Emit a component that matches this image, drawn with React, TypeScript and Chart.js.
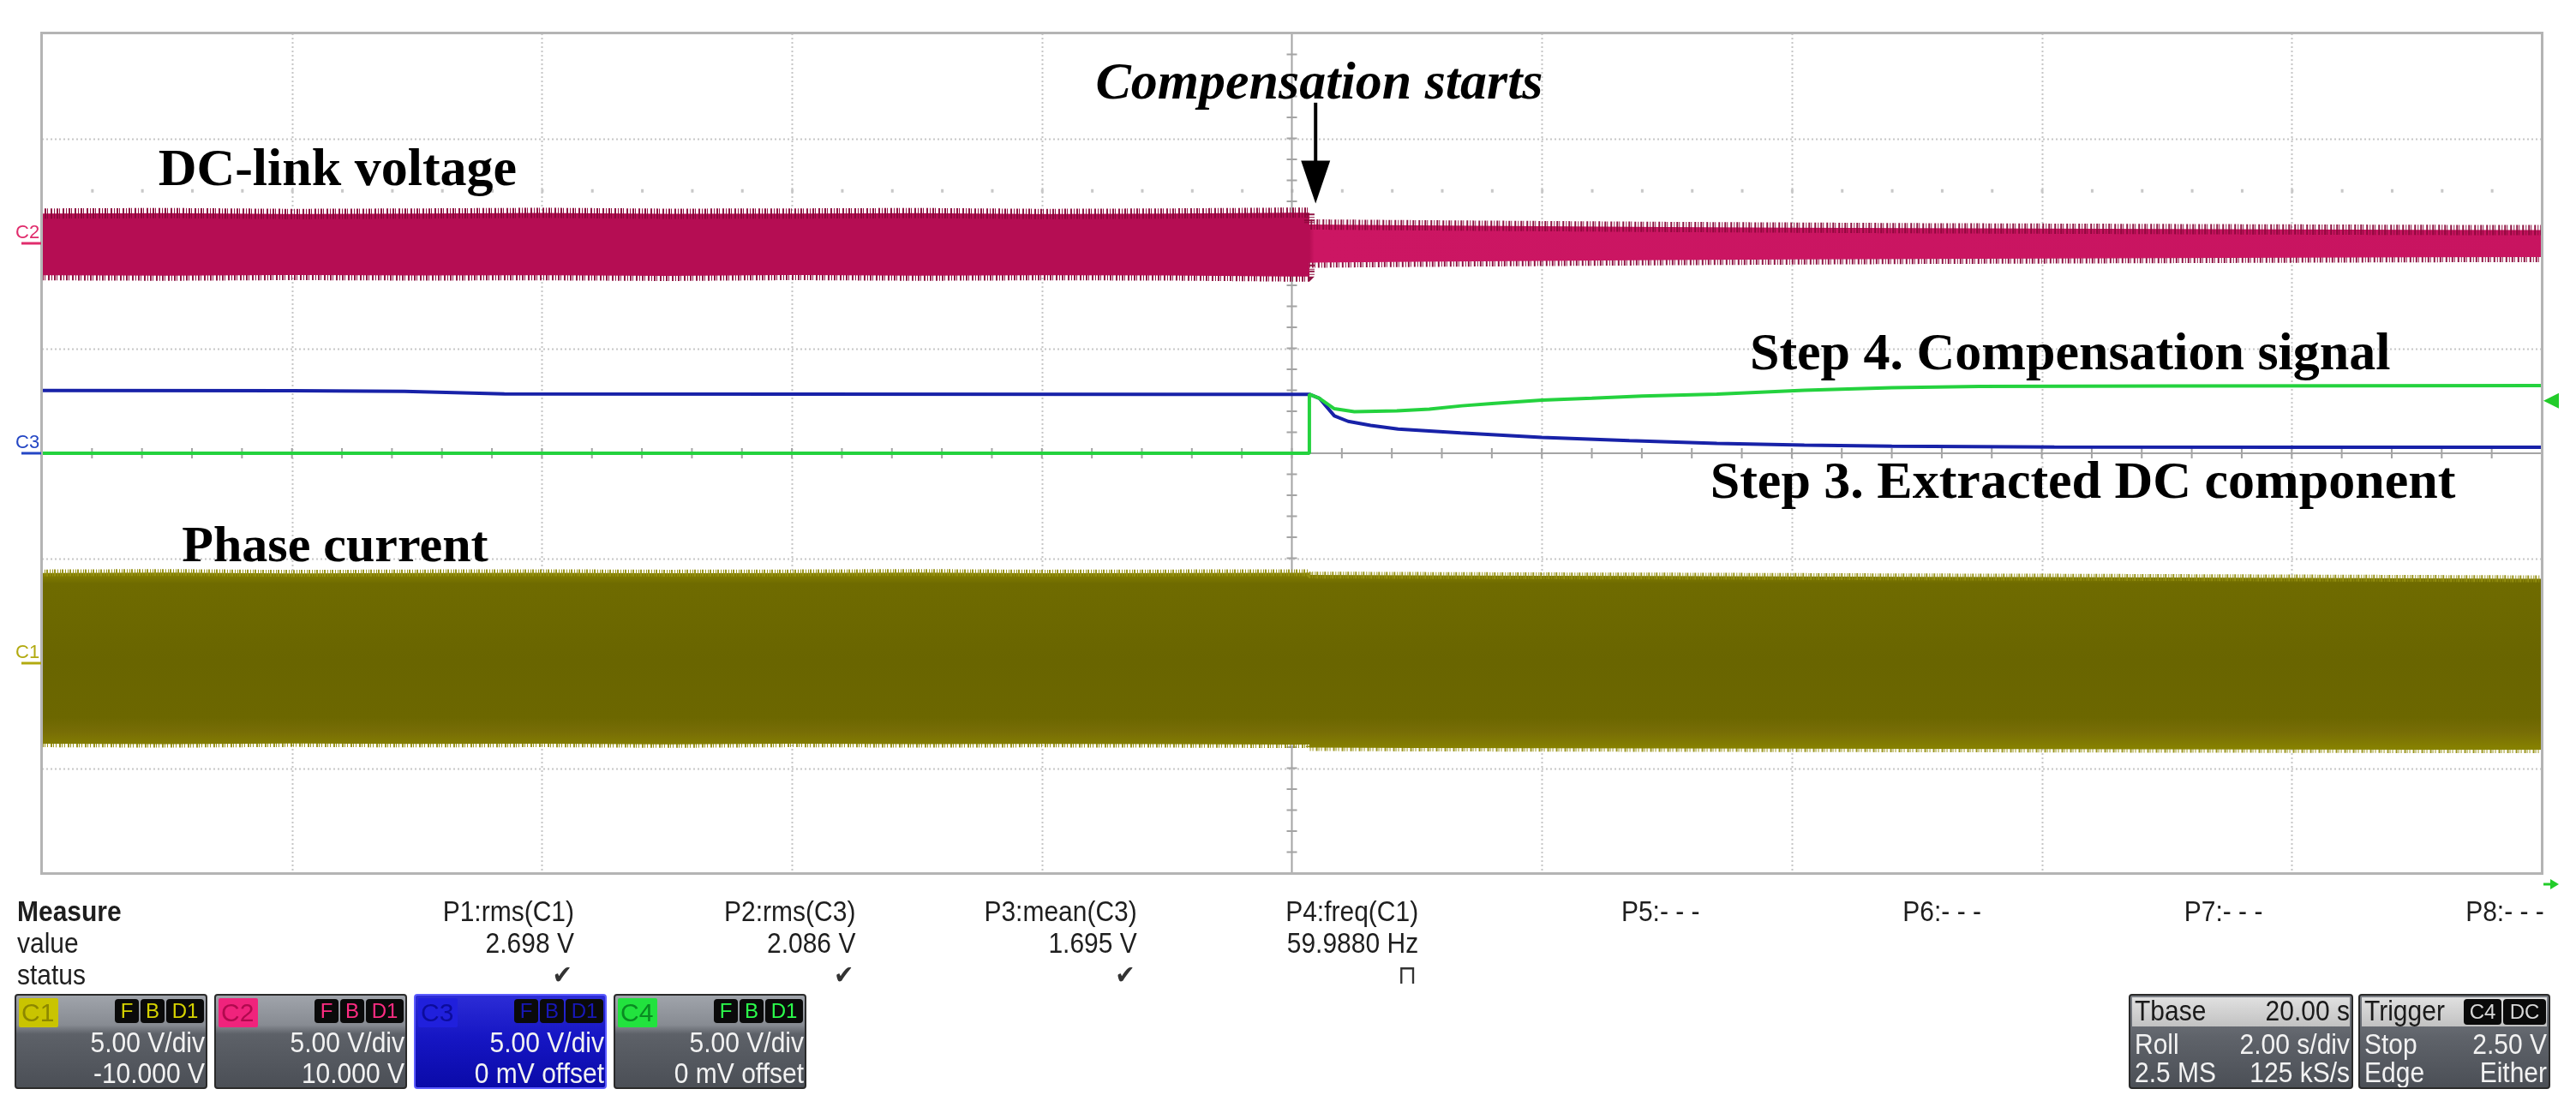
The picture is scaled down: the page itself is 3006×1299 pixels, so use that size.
import React, { useEffect, useRef } from 'react';
import { Chart, registerables } from 'chart.js';

Chart.register(...registerables);

// ---- axes: 10 div x 2 s/div, 8 div x 5 V/div ----
const timeMin = 0;
const timeMax = 20;
const voltMin = -20;
const voltMax = 20;
const stepTime = 10.14;

// channel offsets (V)
const c1Offset = -10;
const c2Offset = 10;
const c3Offset = 0;
const c4Offset = 0;

// envelopes of the dense waveforms (C1 phase current, C2 DC-link voltage)
const envTime = [0, 1, 2, 3, 4, 5, 6, 7, 8, 9, 10, 10.14, 10.14, 11, 12, 13, 14, 15, 16, 17, 18, 19, 20];
const c2Upper = [1.42, 1.44, 1.4, 1.42, 1.45, 1.41, 1.42, 1.44, 1.4, 1.42, 1.46, 1.46, 0.9, 0.86, 0.82, 0.78, 0.75, 0.72, 0.7, 0.68, 0.66, 0.64, 0.63];
const c2Lower = [-1.52, -1.54, -1.51, -1.53, -1.52, -1.55, -1.51, -1.54, -1.52, -1.53, -1.58, -1.58, -0.92, -0.88, -0.84, -0.8, -0.77, -0.74, -0.72, -0.7, -0.68, -0.66, -0.65];
const c1Upper = [4.3, 4.32, 4.28, 4.3, 4.31, 4.29, 4.3, 4.32, 4.29, 4.3, 4.31, 4.31, 4.2, 4.18, 4.16, 4.15, 4.13, 4.11, 4.1, 4.08, 4.06, 4.04, 4.02];
const c1Lower = [-3.84, -3.86, -3.83, -3.85, -3.84, -3.87, -3.84, -3.86, -3.85, -3.86, -3.88, -3.88, -4.02, -4.04, -4.05, -4.06, -4.07, -4.08, -4.09, -4.1, -4.11, -4.12, -4.12];

// C3: extracted DC component
const c3Time = [0, 2, 2.9, 3.7, 6, 9, 10.14, 10.22, 10.34, 10.45, 10.63, 10.85, 11.35, 12.0, 12.7, 13.4, 14.1, 14.8, 16.1, 18, 20];
const c3Vals = [2.99, 2.98, 2.95, 2.83, 2.82, 2.81, 2.81, 2.62, 1.78, 1.52, 1.33, 1.15, 0.97, 0.76, 0.6, 0.47, 0.39, 0.34, 0.3, 0.29, 0.29];

// C4: compensation signal
const c4Time = [0, 10.14, 10.14, 10.22, 10.34, 10.5, 10.84, 11.1, 11.36, 11.6, 12.0, 12.4, 12.8, 13.4, 14.1, 14.8, 15.5, 17, 20];
const c4Vals = [0, 0, 2.81, 2.62, 2.12, 1.98, 2.02, 2.1, 2.26, 2.37, 2.53, 2.62, 2.72, 2.82, 3.0, 3.12, 3.18, 3.2, 3.22];

// measurement panel
const measHeaders = ['P1:rms(C1)', 'P2:rms(C3)', 'P3:mean(C3)', 'P4:freq(C1)', 'P5:- - -', 'P6:- - -', 'P7:- - -', 'P8:- - -'];
const measValues = ['2.698 V', '2.086 V', '1.695 V', '59.9880 Hz', '', '', '', ''];
const measStatus = ['✔', '✔', '✔', '⊓', '', '', '', ''];

// channel descriptors
const chNames = ['C1', 'C2', 'C3', 'C4'];
const chScale = ['5.00 V/div', '5.00 V/div', '5.00 V/div', '5.00 V/div'];
const chOffsetText = ['-10.000 V', '10.000 V', '0 mV offset', '0 mV offset'];
const chAccent = ['#c9c400', '#f0237c', '#2020dc', '#22e23e'];
const chLabelInk = ['#8c8700', '#b00a4e', '#0c0c9c', '#0a8a22'];
const chBadgeInk = ['#d6d200', '#ff2c82', '#1818b8', '#2cff4c'];

const timebaseRows = [['Tbase', '20.00 s'], ['Roll', '2.00 s/div'], ['2.5 MS', '125 kS/s']];
const triggerRows = [['Trigger', ''], ['Stop', '2.50 V'], ['Edge', 'Either']];

const toXY = (ts: number[], vs: number[], off: number) => ts.map((t, i) => ({ x: t, y: vs[i] + off }));

const pinkFill = (c: any) => {
  const chart = c.chart;
  const area = chart.chartArea;
  if (!area) return '#bd1056';
  const sx = chart.scales.x.getPixelForValue(stepTime);
  const f = Math.max(0, Math.min(1, (sx - area.left) / (area.right - area.left)));
  const g = chart.ctx.createLinearGradient(area.left, 0, area.right, 0);
  g.addColorStop(0, '#b50d53');
  g.addColorStop(f, '#b50d53');
  g.addColorStop(Math.min(1, f + 0.002), '#cc1663');
  g.addColorStop(1, '#c81460');
  return g;
};

const oliveFill = (c: any) => {
  const chart = c.chart;
  const area = chart.chartArea;
  if (!area) return '#6b6700';
  const y = chart.scales.y;
  const top = y.getPixelForValue(c1Offset + 4.3);
  const bot = y.getPixelForValue(c1Offset - 4.1);
  const g = chart.ctx.createLinearGradient(0, top, 0, bot);
  g.addColorStop(0, '#868100');
  g.addColorStop(0.06, '#6f6b00');
  g.addColorStop(0.5, '#696500');
  g.addColorStop(0.82, '#6c6700');
  g.addColorStop(0.9, '#776d06');
  g.addColorStop(1, '#878200');
  return g;
};

const gridPlugin = {
  id: 'scopeGrid',
  beforeDatasetsDraw(chart: any) {
    const { ctx, chartArea: a, scales } = chart;
    const x = scales.x;
    const y = scales.y;
    ctx.save();
    ctx.strokeStyle = '#c6c6c6';
    ctx.lineWidth = 2;
    ctx.setLineDash([2, 3]);
    for (let i = 1; i < 10; i++) {
      if (i === 5) continue;
      const px = Math.round(x.getPixelForValue(timeMin + i * 2)) + 0.5;
      ctx.beginPath();
      ctx.moveTo(px, a.top);
      ctx.lineTo(px, a.bottom);
      ctx.stroke();
    }
    for (let j = 1; j < 8; j++) {
      if (j === 4) continue;
      const py = Math.round(y.getPixelForValue(voltMin + j * 5)) + 0.5;
      ctx.beginPath();
      ctx.moveTo(a.left, py);
      ctx.lineTo(a.right, py);
      ctx.stroke();
    }
    ctx.setLineDash([]);
    // faint dot row
    ctx.fillStyle = '#c8c8c8';
    const dotY = y.getPixelForValue(voltMax - 7.5);
    for (let k = 1; k < 50; k++) {
      const px = x.getPixelForValue(k * 0.4);
      ctx.fillRect(px - 1, dotY - 2, 3, 4);
    }
    // centre axes with minor ticks
    const cx = x.getPixelForValue((timeMin + timeMax) / 2);
    const cy = y.getPixelForValue(0);
    ctx.strokeStyle = '#a4a4a4';
    ctx.lineWidth = 2;
    ctx.beginPath();
    ctx.moveTo(cx, a.top);
    ctx.lineTo(cx, a.bottom);
    ctx.moveTo(a.left, cy);
    ctx.lineTo(a.right, cy);
    ctx.stroke();
    ctx.beginPath();
    for (let k = 1; k < 50; k++) {
      const px = x.getPixelForValue(k * 0.4);
      ctx.moveTo(px, cy - 6);
      ctx.lineTo(px, cy + 6);
    }
    for (let k = 1; k < 40; k++) {
      const py = y.getPixelForValue(voltMin + k);
      ctx.moveTo(cx - 6, py);
      ctx.lineTo(cx + 6, py);
    }
    ctx.stroke();
    ctx.restore();
  },
  afterDatasetsDraw(chart: any) {
    const { ctx, chartArea: a } = chart;
    ctx.save();
    ctx.strokeStyle = '#b4b4b4';
    ctx.lineWidth = 3;
    ctx.strokeRect(a.left - 0.5, a.top - 0.5, a.right - a.left + 1, a.bottom - a.top + 1);
    ctx.restore();
  },
};

const notesPlugin = {
  id: 'scopeNotes',
  afterDraw(chart: any) {
    const { ctx, chartArea: a, scales } = chart;
    const x = scales.x;
    const y = scales.y;
    ctx.save();
    ctx.fillStyle = '#000';
    ctx.textBaseline = 'alphabetic';
    const serif = '"Liberation Serif", "Times New Roman", serif';
    ctx.font = `bold 62px ${serif}`;
    ctx.textAlign = 'left';
    ctx.fillText('DC-link voltage', x.getPixelForValue(0.93), y.getPixelForValue(12.77));
    ctx.font = `bold 60px ${serif}`;
    ctx.fillText('Phase current', x.getPixelForValue(1.12), y.getPixelForValue(-5.14));
    ctx.font = `italic bold 62px ${serif}`;
    ctx.fillText('Compensation starts', x.getPixelForValue(8.43), y.getPixelForValue(16.9));
    ctx.font = `bold 62px ${serif}`;
    ctx.textAlign = 'right';
    ctx.fillText('Step 4. Compensation signal', x.getPixelForValue(18.79), y.getPixelForValue(4.0));
    ctx.fillText('Step 3. Extracted DC component', x.getPixelForValue(19.31), y.getPixelForValue(-2.12));

    // arrow
    const ax = x.getPixelForValue(10.19);
    const aTop = y.getPixelForValue(16.7);
    const aTip = y.getPixelForValue(11.9);
    const headH = 50;
    ctx.strokeStyle = '#000';
    ctx.lineWidth = 4;
    ctx.beginPath();
    ctx.moveTo(ax, aTop);
    ctx.lineTo(ax, aTip - headH + 2);
    ctx.stroke();
    ctx.beginPath();
    ctx.moveTo(ax - 17, aTip - headH);
    ctx.lineTo(ax + 17, aTip - headH);
    ctx.lineTo(ax, aTip);
    ctx.closePath();
    ctx.fill();

    // channel ground markers on the left
    const markers: [string, number, string][] = [
      ['C2', c2Offset, '#e02c6c'],
      ['C3', c3Offset, '#2446c4'],
      ['C1', c1Offset, '#b2aa10'],
    ];
    ctx.textAlign = 'left';
    ctx.font = '22px "Liberation Sans", Arial, sans-serif';
    for (const [name, off, col] of markers) {
      const py = y.getPixelForValue(off);
      ctx.fillStyle = col;
      ctx.fillText(name, 18, py - 6);
      ctx.strokeStyle = col;
      ctx.lineWidth = 3;
      ctx.beginPath();
      ctx.moveTo(25, py);
      ctx.lineTo(a.left - 1, py);
      ctx.stroke();
    }

    // trigger level marker (C4, 2.50 V)
    const ty = y.getPixelForValue(2.5 + c4Offset);
    ctx.fillStyle = '#22cc2a';
    ctx.beginPath();
    ctx.moveTo(a.right + 2, ty);
    ctx.lineTo(a.right + 20, ty - 9);
    ctx.lineTo(a.right + 20, ty + 9);
    ctx.closePath();
    ctx.fill();
    // trigger position marker
    const by = a.bottom + 13;
    ctx.strokeStyle = '#22cc2a';
    ctx.lineWidth = 3;
    ctx.beginPath();
    ctx.moveTo(a.right + 2, by);
    ctx.lineTo(a.right + 12, by);
    ctx.stroke();
    ctx.beginPath();
    ctx.moveTo(a.right + 10, by - 6);
    ctx.lineTo(a.right + 20, by);
    ctx.lineTo(a.right + 10, by + 6);
    ctx.closePath();
    ctx.fill();
    ctx.restore();
  },
};

const sans = '"Liberation Sans", Arial, sans-serif';

function Txt(props: { x: number; y: number; text: string; align?: 'left' | 'right'; bold?: boolean; size?: number; color?: string; family?: string }) {
  const { x, y, text, align = 'left', bold = false, size = 30, color = '#1e1e1e', family = sans } = props;
  const w = 600;
  return (
    <div
      style={{
        position: 'absolute',
        left: align === 'left' ? x : x - w,
        top: y - 18,
        width: w,
        height: 36,
        lineHeight: '36px',
        textAlign: align,
        fontFamily: family,
        fontSize: size,
        fontWeight: bold ? 700 : 400,
        color,
        whiteSpace: 'pre',
        transform: 'scaleY(1.08)',
      }}
    >
      {text}
    </div>
  );
}

const chLefts = [17, 250, 483, 716];

function ChannelBox({ i }: { i: number }) {
  const sel = i === 2;
  const badges: [string, number, number][] = [['F', 115, 28], ['B', 145, 28], ['D1', 175, 44]];
  const lineStyle: any = { position: 'absolute', right: 1, height: 36, lineHeight: '36px', fontSize: 30, color: '#f2f2f2', whiteSpace: 'pre', transform: 'scaleY(1.08)' };
  return (
    <div
      style={{
        position: 'absolute',
        left: chLefts[i],
        top: 1160,
        width: 225,
        height: 111,
        boxSizing: 'border-box',
        border: sel ? '2px solid #5c5cff' : '2px solid #2a2a2a',
        borderRadius: 4,
        background: sel
          ? 'linear-gradient(#2c2cd6 0%, #1616c4 45%, #0a0aa8 100%)'
          : 'linear-gradient(#a0a4ab 0%, #878b92 32%, #5d6168 42%, #4b4f56 100%)',
        overflow: 'hidden',
        fontFamily: sans,
      }}
    >
      <div
        style={{
          position: 'absolute',
          left: 3,
          top: 3,
          width: 46,
          height: 34,
          background: chAccent[i],
          color: chLabelInk[i],
          fontSize: 30,
          lineHeight: '34px',
          textAlign: 'left',
          paddingLeft: 3,
          boxSizing: 'border-box',
          borderRadius: 2,
        }}
      >
        {chNames[i]}
      </div>
      {badges.map(([t, l, w]) => (
        <div
          key={t}
          style={{
            position: 'absolute',
            left: l,
            top: 4,
            width: w,
            height: 28,
            background: '#0a0a0a',
            borderRadius: 4,
            color: chBadgeInk[i],
            fontSize: 24,
            lineHeight: '28px',
            textAlign: 'center',
          }}
        >
          {t}
        </div>
      ))}
      <div style={{ ...lineStyle, top: 37 }}>{chScale[i]}</div>
      <div style={{ ...lineStyle, top: 73 }}>{chOffsetText[i]}</div>
    </div>
  );
}

function InfoBox({ left, width, rows, badges }: { left: number; width: number; rows: string[][]; badges?: [string, number, number][] }) {
  return (
    <div
      style={{
        position: 'absolute',
        left,
        top: 1160,
        width,
        height: 111,
        boxSizing: 'border-box',
        border: '2px solid #2a2a2a',
        borderRadius: 4,
        background: 'linear-gradient(#7b7f86 0%, #5f636a 45%, #4b4f56 100%)',
        overflow: 'hidden',
        fontFamily: sans,
      }}
    >
      <div style={{ position: 'absolute', left: 2, right: 2, top: 2, height: 34, background: 'linear-gradient(#e0e0e0, #c2c2c2)' }} />
      {rows.map((r, k) => {
        const top = [0, 39, 72][k];
        const col = k === 0 ? '#1a1a1a' : '#f2f2f2';
        const base: any = { position: 'absolute', top, height: 36, lineHeight: '36px', fontSize: 30, color: col, whiteSpace: 'pre', transform: 'scaleY(1.08)' };
        return (
          <React.Fragment key={k}>
            <div style={{ ...base, left: 5 }}>{r[0]}</div>
            <div style={{ ...base, right: 2 }}>{r[1]}</div>
          </React.Fragment>
        );
      })}
      {(badges || []).map(([t, l, w]) => (
        <div
          key={t}
          style={{
            position: 'absolute',
            left: l,
            top: 4,
            width: w,
            height: 30,
            background: '#0a0a0a',
            borderRadius: 4,
            color: '#d8d8d8',
            fontSize: 24,
            lineHeight: '30px',
            textAlign: 'center',
          }}
        >
          {t}
        </div>
      ))}
    </div>
  );
}

export default function App() {
  const canvasRef = useRef<HTMLCanvasElement | null>(null);

  useEffect(() => {
    const canvas = canvasRef.current;
    if (!canvas) return;
    const pinkEdge = 'rgba(138, 8, 58, 0.95)';
    const oliveEdge = 'rgba(150, 144, 18, 0.95)';
    const chart = new Chart(canvas, {
      type: 'line',
      data: {
        datasets: [
          { label: 'C4', data: toXY(c4Time, c4Vals, c4Offset), borderColor: '#24d23e', borderWidth: 4, fill: false },
          { label: 'C3', data: toXY(c3Time, c3Vals, c3Offset), borderColor: '#1822a8', borderWidth: 4, fill: false },
          {
            label: 'C2 max',
            data: toXY(envTime, c2Upper, c2Offset),
            borderColor: pinkEdge,
            borderWidth: 12,
            borderDash: [1, 2, 2, 1, 1, 3, 2, 2],
            backgroundColor: pinkFill,
            fill: '+1',
          },
          {
            label: 'C2 min',
            data: toXY(envTime, c2Lower, c2Offset),
            borderColor: pinkEdge,
            borderWidth: 12,
            borderDash: [2, 1, 1, 3, 2, 2, 1, 2],
            fill: false,
          },
          {
            label: 'C1 max',
            data: toXY(envTime, c1Upper, c1Offset),
            borderColor: oliveEdge,
            borderWidth: 8,
            borderDash: [1, 2, 1, 1, 2, 2],
            backgroundColor: oliveFill,
            fill: '+1',
          },
          {
            label: 'C1 min',
            data: toXY(envTime, c1Lower, c1Offset),
            borderColor: oliveEdge,
            borderWidth: 8,
            borderDash: [2, 1, 1, 2, 1, 3],
            fill: false,
          },
        ],
      },
      options: {
        animation: false,
        responsive: false,
        maintainAspectRatio: false,
        devicePixelRatio: 1,
        layout: { padding: { left: 49, top: 39, right: 40, bottom: 280 } },
        scales: {
          x: { type: 'linear', min: timeMin, max: timeMax, display: false },
          y: { type: 'linear', min: voltMin, max: voltMax, display: false },
        },
        plugins: { legend: { display: false }, tooltip: { enabled: false } },
        elements: { point: { radius: 0 }, line: { tension: 0, borderJoinStyle: 'bevel' } },
      },
      plugins: [gridPlugin, notesPlugin],
    } as any);
    return () => chart.destroy();
  }, []);

  const colRight = (i: number) => 670 + 328.4 * i;

  return (
    <div style={{ position: 'absolute', left: 0, top: 0, width: 3006, height: 1299, background: '#ffffff', overflow: 'hidden' }}>
      <canvas ref={canvasRef} width={3006} height={1299} style={{ position: 'absolute', left: 0, top: 0, width: 3006, height: 1299 }} />
      <Txt x={20} y={1064} text="Measure" bold />
      <Txt x={20} y={1101} text="value" />
      <Txt x={20} y={1138} text="status" />
      {measHeaders.map((h, i) => (
        <React.Fragment key={h}>
          <Txt x={colRight(i)} y={1064} text={h} align="right" />
          {measValues[i] ? <Txt x={colRight(i)} y={1101} text={measValues[i]} align="right" /> : null}
          {measStatus[i] ? (
            <Txt x={colRight(i) - 2} y={1138} text={measStatus[i]} align="right" size={28} color="#333" family='"DejaVu Sans", sans-serif' />
          ) : null}
        </React.Fragment>
      ))}
      {[0, 1, 2, 3].map((i) => (
        <ChannelBox key={i} i={i} />
      ))}
      <InfoBox left={2484} width={262} rows={timebaseRows} />
      <InfoBox left={2752} width={224} rows={triggerRows} badges={[['C4', 121, 44], ['DC', 167, 50]]} />
    </div>
  );
}
